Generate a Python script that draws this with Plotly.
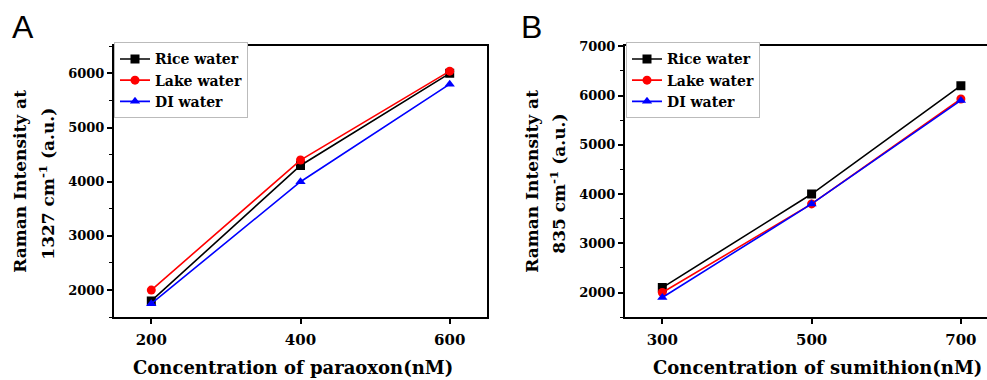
import plotly.graph_objects as go

# Panel A data
conc_a = [200, 400, 600]
rice_a = [1800, 4300, 6000]
lake_a = [2000, 4400, 6040]
di_a = [1750, 4000, 5800]

# Panel B data
conc_b = [300, 500, 700]
rice_b = [2100, 4000, 6200]
lake_b = [2000, 3800, 5930]
di_b = [1900, 3800, 5900]

series_names = ["Rice water", "Lake water", "DI water"]
colors = ["#000000", "#ff0000", "#0000ff"]
symbols = ["square", "circle", "triangle-up"]

W, H = 987, 380
SERIF = "DejaVu Serif"

fig = go.Figure()

for name, ys, c, s in zip(series_names, [rice_a, lake_a, di_a], colors, symbols):
    fig.add_trace(go.Scatter(x=conc_a, y=ys, name=name, mode="lines+markers",
                             line=dict(color=c, width=1.6),
                             marker=dict(color=c, symbol=s, size=9),
                             xaxis="x", yaxis="y", legend="legend"))
for name, ys, c, s in zip(series_names, [rice_b, lake_b, di_b], colors, symbols):
    fig.add_trace(go.Scatter(x=conc_b, y=ys, name=name, mode="lines+markers",
                             line=dict(color=c, width=1.6),
                             marker=dict(color=c, symbol=s, size=9),
                             xaxis="x2", yaxis="y2", legend="legend2"))

def px(v):
    return v / W
def py(v):
    return 1 - v / H

xtickfont = dict(family=SERIF, size=15, color="black", weight="bold")
ytickfont = dict(family=SERIF, size=13, color="black", weight="bold")
common_axis = dict(showline=True, linecolor="black", linewidth=2, ticks="outside",
                   ticklen=5, tickwidth=1.5, tickcolor="black", showgrid=False,
                   zeroline=False)

ydom = [py(316), py(40)]
minor = dict(ticks="outside", ticklen=3, dtick=500, tick0=0, tickcolor="black", tickwidth=1.2)

legend_font = dict(family=SERIF, size=14, color="black", weight="bold")

fig.update_layout(
    width=W, height=H, margin=dict(l=0, r=0, t=0, b=0),
    paper_bgcolor="white", plot_bgcolor="white",
    xaxis=dict(domain=[px(114), px(487)], range=[150, 650], tickvals=conc_a,
               mirror=True, anchor="y", tickfont=xtickfont, ticklabelstandoff=3,
               **common_axis),
    yaxis=dict(domain=ydom, range=[1500, 6500], dtick=1000, tick0=0, mirror=True,
               anchor="x", minor=minor, tickfont=ytickfont, **common_axis),
    xaxis2=dict(domain=[px(625), 1.0], range=[250, 735], tickvals=conc_b,
                mirror=True, anchor="y2", tickfont=xtickfont, ticklabelstandoff=3,
                **common_axis),
    yaxis2=dict(domain=ydom, range=[1500, 7000], dtick=1000, tick0=0, mirror=False,
                anchor="x2", minor=minor, tickfont=ytickfont, **common_axis),
    legend=dict(x=px(114), y=py(36), xanchor="left", yanchor="top",
                bgcolor="white", bordercolor="#bbbbbb", borderwidth=1,
                font=legend_font, tracegroupgap=0, itemwidth=30),
    legend2=dict(x=px(626), y=py(36), xanchor="left", yanchor="top",
                 bgcolor="white", bordercolor="#bbbbbb", borderwidth=1,
                 font=legend_font, tracegroupgap=0, itemwidth=30),
    showlegend=True,
)

title_font = dict(family=SERIF, size=17, color="black", weight="bold")
xtitle_font = dict(family=SERIF, size=18, color="black", weight="bold")
ann = [
    dict(text="A", x=px(23), y=py(20), font=dict(family="Liberation Sans", size=32, color="black")),
    dict(text="B", x=px(531), y=py(20), font=dict(family="Liberation Sans", size=32, color="black")),
    dict(text="Concentration of paraoxon(nM)", x=px(293), y=py(367), font=xtitle_font),
    dict(text="Concentration of sumithion(nM)", x=px(817), y=py(367), font=xtitle_font),
    dict(text="Raman Intensity at", x=px(20), y=py(178), textangle=-90, font=title_font),
    dict(text="1327 cm<sup>-1</sup> (a.u.)", x=px(47), y=py(180), textangle=-90, font=title_font),
    dict(text="Raman Intensity at", x=px(532), y=py(178), textangle=-90, font=title_font),
    dict(text="835 cm<sup>-1</sup> (a.u.)", x=px(558), y=py(180), textangle=-90, font=title_font),
]
for a in ann:
    a.update(xref="paper", yref="paper", showarrow=False, xanchor="center", yanchor="middle")
fig.update_layout(annotations=ann)

fig.write_html("out.html")
